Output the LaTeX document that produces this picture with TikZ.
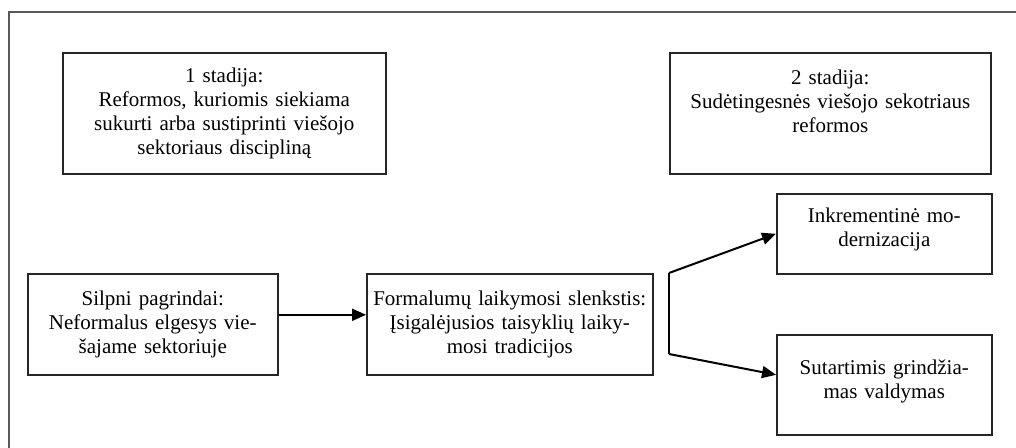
\documentclass[tikz,border=0pt]{standalone}
\usepackage{fontspec}
\setmainfont{Liberation Serif}
\usetikzlibrary{arrows.meta,calc}
\begin{document}
\begin{tikzpicture}[x=0.5pt,y=-0.5pt,
  box/.style={draw=black!85,line width=0.8pt,rectangle,inner sep=0pt,align=center,
    font=\fontsize{10.5}{12}\selectfont,anchor=north west},
  conn/.style={line width=1pt,-{Triangle[length=7pt,width=6pt]}},
  frame/.style={draw=black!65,line width=1.2pt}]
\useasboundingbox (0,0) rectangle (1016,448);
\draw[frame] (9,460) -- (9,12) -- (1030,12);
\node[box,minimum width=161.5pt,minimum height=60.5pt,text width=155pt] (s1) at (62,52)
  {1 stadija:\\Reformos, kuriomis siekiama\\sukurti arba sustiprinti viešojo\\sektoriaus discipliną};
\node[box,minimum width=160.5pt,minimum height=60.5pt,text width=155pt] (s2) at (669,52)
  {2 stadija:\\Sudėtingesnės viešojo sekotriaus\\reformos\\\mbox{}};
\node[box,minimum width=125pt,minimum height=50.5pt,text width=120pt] (silpni) at (27,273)
  {Silpni pagrindai:\\Neformalus elgesys vie-\\šajame sektoriuje};
\node[box,minimum width=143pt,minimum height=50.5pt,text width=140pt] (form) at (366,273)
  {Formalumų laikymosi slenkstis:\\Įsigalėjusios taisyklių laiky-\\mosi tradicijos};
\node[box,minimum width=107.5pt,minimum height=40pt,text width=104pt] (ink) at (776,193)
  {Inkrementinė mo-\\dernizacija\\[-5pt]\mbox{}};
\node[box,minimum width=107.5pt,minimum height=50pt,text width=104pt] (sut) at (776,334)
  {Sutartimis grindžia-\\mas valdymas\\[-6pt]\mbox{}};
\coordinate (b1) at (669,273);
\coordinate (b2) at (669,354);
\draw[conn] ([yshift=4.75pt]silpni.east) -- ([yshift=4.75pt]form.west);
\draw[line width=1pt] (b1) -- (b2);
\draw[conn] (b1) -- (ink.west);
\draw[conn] (b2) -- ([yshift=5pt]sut.west);
\end{tikzpicture}
\end{document}
